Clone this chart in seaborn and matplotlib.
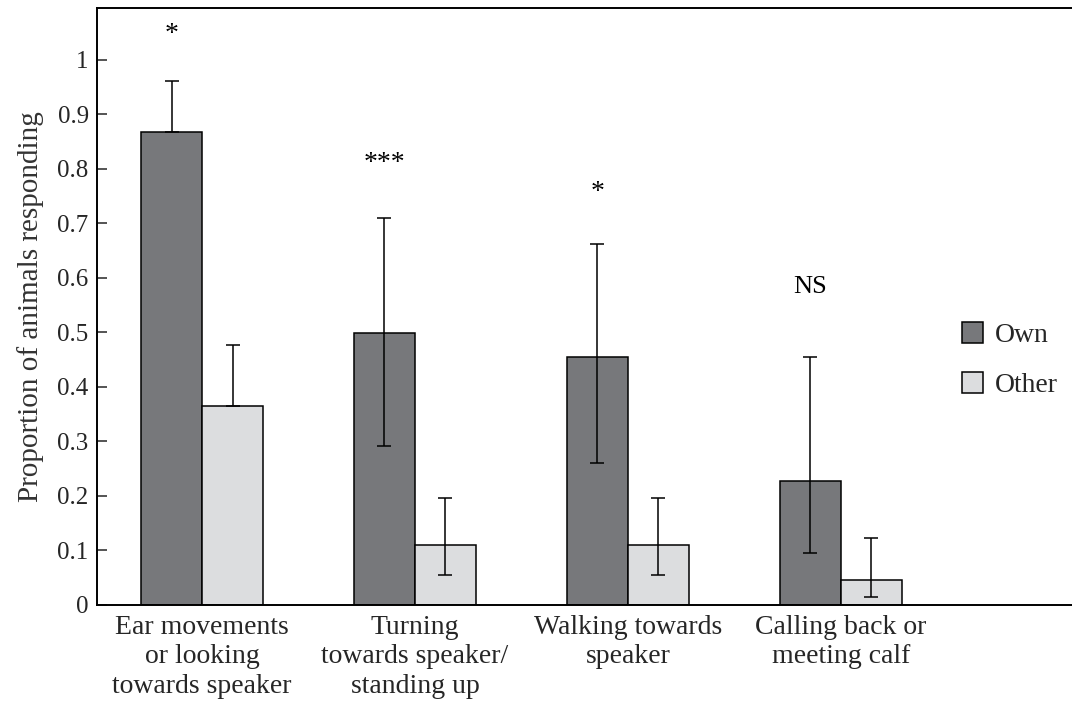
import pandas as pd
import numpy as np
import matplotlib.pyplot as plt
import seaborn as sns

behaviours = ['Ear movements\nor looking\ntowards speaker',
              'Turning\ntowards speaker/\nstanding up',
              'Walking towards\nspeaker',
              'Calling back or\nmeeting calf']
own = [0.868, 0.498, 0.454, 0.228]
own_hi = [0.960, 0.709, 0.661, 0.454]
own_lo = [0.868, 0.292, 0.261, 0.095]
other = [0.365, 0.110, 0.110, 0.046]
other_hi = [0.476, 0.196, 0.196, 0.122]
other_lo = [0.365, 0.055, 0.055, 0.014]
signif = ['*', '***', '*', 'NS']
signif_y = [1.046, 0.809, 0.756, 0.583]

df = pd.DataFrame({'Behaviour': behaviours * 2,
                   'Call': ['Own'] * 4 + ['Other'] * 4,
                   'Proportion': own + other})

sns.set_style('white')
plt.rcParams['font.family'] = ['Liberation Serif', 'DejaVu Serif']

fig = plt.figure(figsize=(10.72, 7.15), dpi=100)
ax = fig.add_axes([0.0905, 0.154, 0.9095, 0.835])

ax = sns.barplot(data=df, x='Behaviour', y='Proportion', hue='Call',
                 palette={'Own': '#77787b', 'Other': '#dcdddf'},
                 edgecolor='black', linewidth=1.1, width=0.573,
                 errorbar=None, ax=ax)

# asymmetric error bars on top of the seaborn bars
for cont, vals, hi, lo in zip(ax.containers, [own, other], [own_hi, other_hi], [own_lo, other_lo]):
    xs = [p.get_x() + p.get_width() / 2 for p in cont.patches]
    vals = np.array(vals)
    err = [vals - np.array(lo), np.array(hi) - vals]
    ax.errorbar(xs, vals, yerr=err, fmt='none', ecolor='black',
                elinewidth=1.1, capsize=4.7, capthick=1.1, zorder=5)

for p, s, y in zip(ax.containers[0].patches, signif, signif_y):
    ax.text(p.get_x() + p.get_width() / 2, y, s, ha='center', va='center',
            fontsize=19 if s == 'NS' else 20, color='black')

ax.set_xlim(-0.493, 4.085)
ax.set_ylim(0, 1.095)
ax.set_yticks(np.arange(0, 1.01, 0.1))
ax.set_yticklabels(['0', '0.1', '0.2', '0.3', '0.4', '0.5', '0.6', '0.7', '0.8', '0.9', '1'])
ax.tick_params(axis='y', direction='in', length=7, width=1.1, labelsize=18, pad=6, left=True)
ax.tick_params(axis='x', length=0, labelsize=20, pad=7)
for lab in ax.get_xticklabels():
    lab.set_linespacing(1.25)
ax.set_xlabel('')
ax.set_ylabel('Proportion of animals responding', fontsize=21, color='#333333', labelpad=10)

for side in ['left', 'bottom', 'top']:
    ax.spines[side].set_linewidth(1.4)
    ax.spines[side].set_color('black')
ax.spines['right'].set_visible(False)

sns.move_legend(ax, 'upper left', bbox_to_anchor=(0.887, 0.474), frameon=False,
                title=None, fontsize=20, handlelength=0.78, handleheight=0.78,
                handletextpad=0.4, labelspacing=0.85, borderpad=0, borderaxespad=0)

plt.savefig('out.png', dpi=100)
